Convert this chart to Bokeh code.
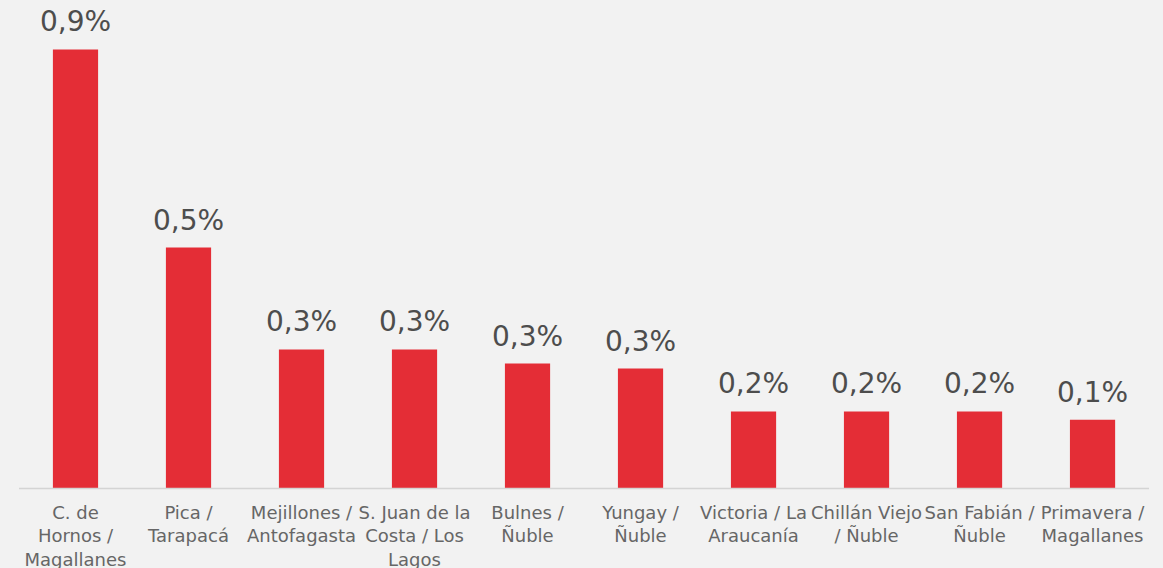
from bokeh.plotting import figure
from bokeh.models import ColumnDataSource, Range1d, LabelSet
from bokeh.core.properties import value
from bokeh.embed import file_html
from bokeh.resources import INLINE

categories = [
    "C. de\nHornos /\nMagallanes",
    "Pica /\nTarapacá",
    "Mejillones /\nAntofagasta",
    "S. Juan de la\nCosta / Los\nLagos",
    "Bulnes /\nÑuble",
    "Yungay /\nÑuble",
    "Victoria / La\nAraucanía",
    "Chillán Viejo\n/ Ñuble",
    "San Fabián /\nÑuble",
    "Primavera /\nMagallanes",
]
values = [0.90, 0.494, 0.285, 0.285, 0.256, 0.246, 0.158, 0.158, 0.158, 0.141]
value_labels = ["0,9%", "0,5%", "0,3%", "0,3%", "0,3%", "0,3%", "0,2%", "0,2%", "0,2%", "0,1%"]

BG = "#F2F2F2"
positions = list(range(len(categories)))
src = ColumnDataSource(dict(x=positions, top=values, lab=value_labels,
                            cat=categories, zero=[0] * len(categories)))

p = figure(width=1163, height=568, output_backend="svg", toolbar_location=None,
           x_range=Range1d(-0.6637, 9.628), y_range=Range1d(-0.164, 1.0004),
           min_border=0, background_fill_color=BG, border_fill_color=BG,
           outline_line_color=None)
p.axis.visible = False
p.grid.visible = False

p.vbar(x="x", top="top", bottom=0, width=0.4, source=src,
       fill_color="#E42D36", line_color=None)

p.segment(x0=[-0.5], y0=[0], x1=[len(categories) - 0.5], y1=[0],
          line_color="#D4D4D4", line_width=1.5)

labels = LabelSet(x="x", y="top", text="lab", source=src, y_offset=18,
                  text_align="center", text_baseline="alphabetic",
                  text_font=value("DejaVu Sans"), text_font_size="28px",
                  text_color="#4D4D4D")
p.add_layout(labels)

p.text(x="x", y="zero", text="cat", source=src, y_offset=13,
       text_align="center", text_baseline="top",
       text_font=value("DejaVu Sans"), text_font_size="18px",
       text_color="#666666", text_line_height=1.13)

html = file_html(p, INLINE)
html = html.replace("<head>", "<head><style>body{background:#F2F2F2;}</style>", 1)
open("out.html", "w").write(html)
